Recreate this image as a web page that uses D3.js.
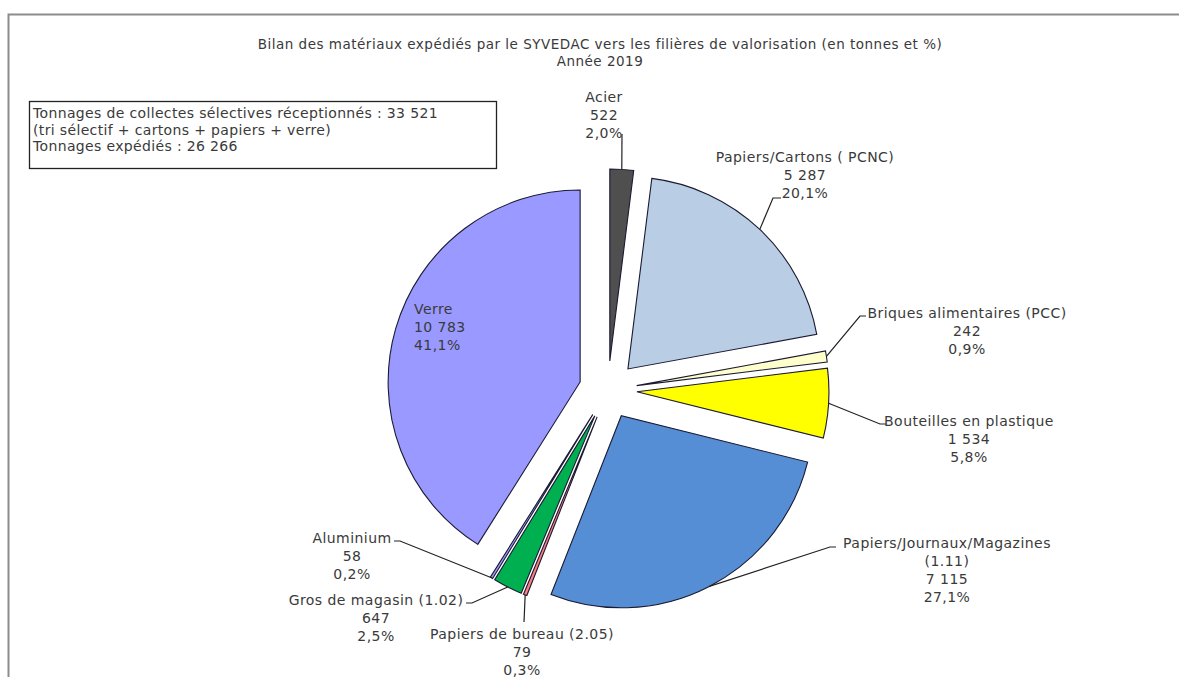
<!DOCTYPE html>
<html>
<head>
<meta charset="utf-8">
<script src="https://cdn.jsdelivr.net/npm/d3@7"></script>
<style>
  body { margin: 0; background: #fff; }
  svg text { font-family: "DejaVu Sans", sans-serif; fill: #3a3a3a; }
</style>
</head>
<body>
<svg id="chart" width="1179" height="677"></svg>
<script>
// data
const categories = ["Acier", "Papiers/Cartons ( PCNC)", "Briques alimentaires (PCC)", "Bouteilles en plastique",
  "Papiers/Journaux/Magazines\n(1.11)", "Papiers de bureau (2.05)", "Gros de magasin (1.02)", "Aluminium", "Verre"];
const tonnages = [522, 5287, 242, 1534, 7115, 79, 647, 58, 10783];
const colors = ["#4f4f4f", "#b9cde5", "#ffffcc", "#ffff00", "#558ed5", "#ff7c80", "#00b050", "#9999ff", "#9999ff"];
const titleLines = ["Bilan des matériaux expédiés par le SYVEDAC vers les filières de valorisation (en tonnes et %)", "Année 2019"];
const boxLines = ["Tonnages de collectes sélectives réceptionnés : 33 521", "(tri sélectif + cartons + papiers + verre)", "Tonnages expédiés : 26 266"];

// label placement (elbow, end of leader, text anchor)
const labelPos = [
  {elbow: null, end: [622, 134], tx: 604, ty: 102, anchor: "middle"},
  {elbow: [773, 198], end: [781, 198], tx: 805, ty: 162, anchor: "middle"},
  {elbow: [860, 316], end: [866, 316], tx: 967, ty: 318, anchor: "middle"},
  {elbow: [880, 424], end: [886, 424], tx: 969, ty: 426, anchor: "middle"},
  {elbow: [830, 547], end: [836, 547], tx: 947, ty: 548, anchor: "middle"},
  {elbow: null, end: [524, 622], tx: 522, ty: 639, anchor: "middle"},
  {elbow: [472, 603], end: [466, 603], tx: 376, ty: 605, anchor: "middle"},
  {elbow: [400, 541], end: [394, 541], tx: 352, ty: 543, anchor: "middle"},
  null // Verre: inside
];

const fr = d3.formatLocale({decimal: ",", thousands: " ", grouping: [3], currency: ["", " €"]});
const fmtNum = fr.format(",d");
const fmtPct = fr.format(".1%");

const svg = d3.select("#chart");
const cx = 608, cy = 390, radius = 192, explode = 29, lineH = 18;

// outer frame
svg.append("rect")
  .attr("x", 8.5).attr("y", 14.5)
  .attr("width", 1200).attr("height", 700)
  .attr("fill", "none").attr("stroke", "#8c8c8c").attr("stroke-width", 2);

// title
svg.append("g").selectAll("text").data(titleLines).enter().append("text")
  .attr("x", 600).attr("y", (d, i) => 49 + i * 17)
  .attr("text-anchor", "middle")
  .style("font-size", "13.5px")
  .style("letter-spacing", "0.5px")
  .text(d => d);

// info box
svg.append("rect")
  .attr("x", 29.5).attr("y", 101.5).attr("width", 467).attr("height", 67)
  .attr("fill", "#fff").attr("stroke", "#222").attr("stroke-width", 1.3);
svg.append("g").selectAll("text").data(boxLines).enter().append("text")
  .attr("x", 33).attr("y", (d, i) => 118 + i * 16.5)
  .style("font-size", "14px")
  .style("letter-spacing", "0.35px")
  .text(d => d);

const total = d3.sum(tonnages);
const data = categories.map((c, i) => ({name: c, value: tonnages[i], color: colors[i], pos: labelPos[i]}));

const pie = d3.pie().value(d => d.value).sort(null);
const arc = d3.arc().innerRadius(0).outerRadius(radius);
const arcs = pie(data);

function offset(d) {
  const a = (d.startAngle + d.endAngle) / 2;
  return [Math.sin(a) * explode, -Math.cos(a) * explode];
}

const g = svg.append("g").attr("transform", "translate(" + cx + "," + cy + ")");

g.selectAll("path.slice").data(arcs).enter().append("path")
  .attr("class", "slice")
  .attr("transform", d => "translate(" + offset(d) + ")")
  .attr("d", arc)
  .attr("fill", d => d.data.color)
  .attr("stroke", "#1a1a33")
  .attr("stroke-width", 1.1)
  .attr("stroke-linejoin", "miter");

// leader lines
arcs.forEach(function(d) {
  const p = d.data.pos;
  if (!p) return;
  const a = (d.startAngle + d.endAngle) / 2;
  const o = offset(d);
  const start = [cx + o[0] + Math.sin(a) * radius, cy + o[1] - Math.cos(a) * radius];
  const pts = [start];
  if (p.elbow) pts.push(p.elbow);
  pts.push(p.end);
  svg.append("path")
    .attr("d", d3.line()(pts))
    .attr("fill", "none")
    .attr("stroke", "#222")
    .attr("stroke-width", 1.2);
});

// labels
arcs.forEach(function(d) {
  const p = d.data.pos;
  const lines = d.data.name.split("\n").concat([fmtNum(d.data.value), fmtPct(d.data.value / total)]);
  let tx, ty, anchor;
  if (p) { tx = p.tx; ty = p.ty; anchor = p.anchor; }
  else { tx = 414; ty = 314; anchor = "start"; }
  svg.append("g").selectAll("text").data(lines).enter().append("text")
    .attr("x", tx).attr("y", (t, i) => ty + i * lineH)
    .attr("text-anchor", anchor)
    .style("font-size", "14px")
    .style("letter-spacing", "0.45px")
    .text(t => t);
});
</script>
</body>
</html>
